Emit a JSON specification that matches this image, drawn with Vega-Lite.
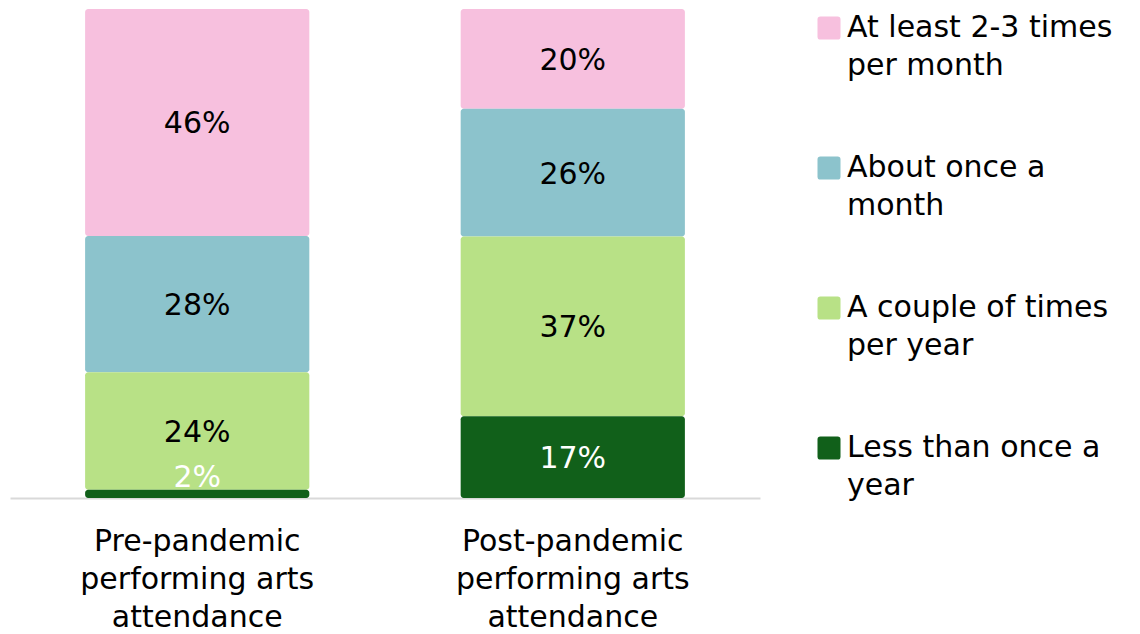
{
  "$schema": "https://vega.github.io/schema/vega-lite/v6.json",
  "width": 750,
  "height": 489,
  "padding": {"left": 10, "top": 9, "right": 0, "bottom": 0},
  "config": {
    "view": {"stroke": null},
    "font": "DejaVu Sans",
    "style": {"guide-label": {"lineHeight": 38}}
  },
  "data": {
    "values": [
      {"period": "Pre-pandemic performing arts attendance", "freq": "At least 2-3 times per month", "value": 0.464},
      {"period": "Pre-pandemic performing arts attendance", "freq": "About once a month", "value": 0.279},
      {"period": "Pre-pandemic performing arts attendance", "freq": "A couple of times per year", "value": 0.24},
      {"period": "Pre-pandemic performing arts attendance", "freq": "Less than once a year", "value": 0.017},
      {"period": "Post-pandemic performing arts attendance", "freq": "At least 2-3 times per month", "value": 0.204},
      {"period": "Post-pandemic performing arts attendance", "freq": "About once a month", "value": 0.261},
      {"period": "Post-pandemic performing arts attendance", "freq": "A couple of times per year", "value": 0.368},
      {"period": "Post-pandemic performing arts attendance", "freq": "Less than once a year", "value": 0.167}
    ]
  },
  "transform": [
    {"calculate": "indexof(['Less than once a year','A couple of times per year','About once a month','At least 2-3 times per month'], datum.freq)", "as": "ord"},
    {"stack": "value", "groupby": ["period"], "sort": [{"field": "ord"}], "as": ["v0", "v1"]},
    {"calculate": "(datum.v0 + datum.v1) / 2", "as": "mid"}
  ],
  "encoding": {
    "x": {
      "field": "period",
      "type": "nominal",
      "sort": null,
      "title": null,
      "scale": {"paddingInner": 0.403, "paddingOuter": 0.2},
      "axis": {
        "domainColor": "#d9d9d9",
        "domainWidth": 2,
        "ticks": false,
        "labelAngle": 0,
        "labelFontSize": 30,
        "labelColor": "black",
        "labelPadding": 28,
        "labelLineHeight": 38,
        "labelBaseline": "top",
        "labelLimit": 400,
        "labelExpr": "datum.value == 'Pre-pandemic performing arts attendance' ? ['Pre-pandemic', 'performing arts', 'attendance'] : ['Post-pandemic', 'performing arts', 'attendance']"
      }
    }
  },
  "layer": [
    {
      "mark": {"type": "bar", "cornerRadius": 3},
      "encoding": {
        "y": {"field": "v0", "type": "quantitative", "scale": {"domain": [0, 1]}, "axis": null},
        "y2": {"field": "v1"},
        "color": {
          "field": "freq",
          "type": "nominal",
          "scale": {
            "domain": ["At least 2-3 times per month", "About once a month", "A couple of times per year", "Less than once a year"],
            "range": ["#F7C0DE", "#8CC3CC", "#B8E186", "#11601A"]
          },
          "legend": {
            "orient": "none",
            "legendX": 804,
            "legendY": 4,
            "title": null,
            "symbolType": "M -1 -0.75 Q -1 -1 -0.75 -1 L 0.75 -1 Q 1 -1 1 -0.75 L 1 0.75 Q 1 1 0.75 1 L -0.75 1 Q -1 1 -1 0.75 Z",
            "symbolSize": 529,
            "symbolStrokeWidth": 0,
            "symbolOpacity": 1,
            "labelFontSize": 30,
            "labelColor": "black",
            "labelOffset": 3,
            "labelLimit": 400,
            "rowPadding": 72,
            "labelExpr": "datum.label == 'At least 2-3 times per month' ? ['At least 2-3 times', 'per month'] : datum.label == 'About once a month' ? ['About once a', 'month'] : datum.label == 'A couple of times per year' ? ['A couple of times', 'per year'] : ['Less than once a', 'year']"
          }
        }
      }
    },
    {
      "transform": [{"filter": "datum.value >= 0.05"}],
      "mark": {"type": "text", "fontSize": 30, "dy": 2},
      "encoding": {
        "y": {"field": "mid", "type": "quantitative"},
        "text": {"field": "value", "type": "quantitative", "format": ".0%"},
        "color": {"condition": {"test": "datum.freq == 'Less than once a year'", "value": "white"}, "value": "black"}
      }
    },
    {
      "transform": [{"filter": "datum.value < 0.05"}],
      "mark": {"type": "text", "fontSize": 30, "dy": -16},
      "encoding": {
        "y": {"field": "mid", "type": "quantitative"},
        "text": {"field": "value", "type": "quantitative", "format": ".0%"},
        "color": {"value": "white"}
      }
    }
  ]
}
